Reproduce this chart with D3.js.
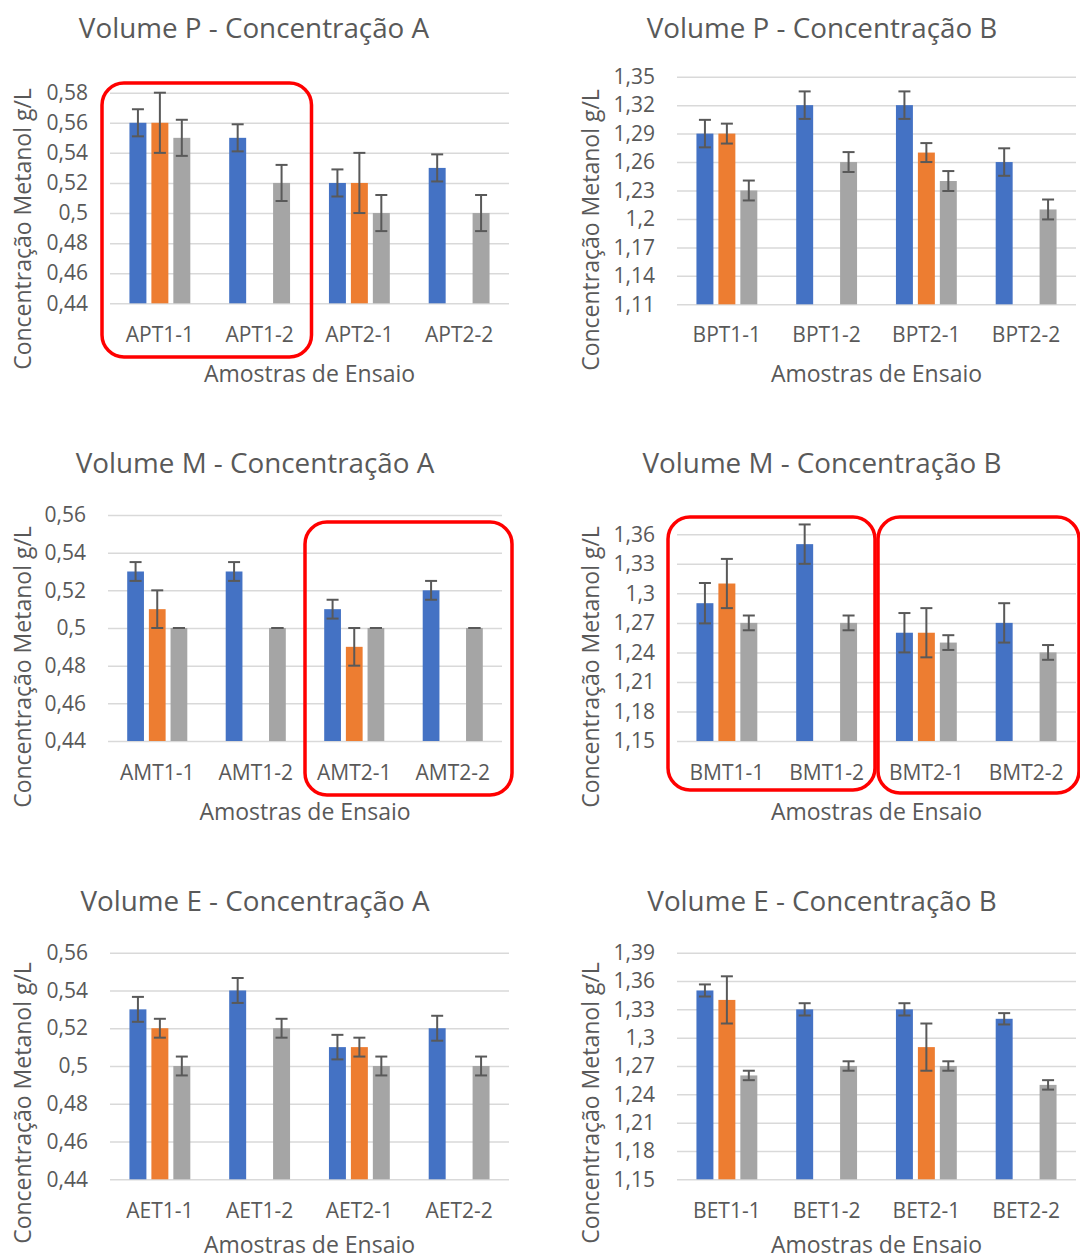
<!DOCTYPE html>
<html lang="pt">
<head>
<meta charset="utf-8">
<title>Concentração de Metanol</title>
<script src="https://cdn.jsdelivr.net/npm/d3@7"></script>
<style>
  html, body { margin: 0; padding: 0; background: #ffffff; }
  svg { display: block; }
  text { font-family: "Open Sans", "Noto Sans", sans-serif; fill: #595959; }
</style>
</head>
<body>
<svg id="chart" width="1080" height="1260"></svg>
<script>
// ---- Dados: Volume P - Concentração A ----
const catsPA   = ["APT1-1", "APT1-2", "APT2-1", "APT2-2"];
const serie1PA = [0.56, 0.55, 0.52, 0.53];
const serie2PA = [0.56, null, 0.52, null];
const serie3PA = [0.55, 0.52, 0.50, 0.50];
const erro1PA  = [0.009, 0.009, 0.009, 0.009];
const erro2PA  = [0.02, null, 0.02, null];
const erro3PA  = [0.012, 0.012, 0.012, 0.012];
const ticksPA  = [0.44, 0.46, 0.48, 0.50, 0.52, 0.54, 0.56, 0.58];

// ---- Dados: Volume P - Concentração B ----
const catsPB   = ["BPT1-1", "BPT1-2", "BPT2-1", "BPT2-2"];
const serie1PB = [1.29, 1.32, 1.32, 1.26];
const serie2PB = [1.29, null, 1.27, null];
const serie3PB = [1.23, 1.26, 1.24, 1.21];
const erro1PB  = [0.0145, 0.0145, 0.0145, 0.0145];
const erro2PB  = [0.0105, null, 0.01, null];
const erro3PB  = [0.0105, 0.0105, 0.0105, 0.0105];
const ticksPB  = [1.11, 1.14, 1.17, 1.20, 1.23, 1.26, 1.29, 1.32, 1.35];

// ---- Dados: Volume M - Concentração A ----
const catsMA   = ["AMT1-1", "AMT1-2", "AMT2-1", "AMT2-2"];
const serie1MA = [0.53, 0.53, 0.51, 0.52];
const serie2MA = [0.51, null, 0.49, null];
const serie3MA = [0.50, 0.50, 0.50, 0.50];
const erro1MA  = [0.005, 0.005, 0.005, 0.005];
const erro2MA  = [0.01, null, 0.01, null];
const erro3MA  = [0, 0, 0, 0];
const ticksMA  = [0.44, 0.46, 0.48, 0.50, 0.52, 0.54, 0.56];

// ---- Dados: Volume M - Concentração B ----
const catsMB   = ["BMT1-1", "BMT1-2", "BMT2-1", "BMT2-2"];
const serie1MB = [1.29, 1.35, 1.26, 1.27];
const serie2MB = [1.31, null, 1.26, null];
const serie3MB = [1.27, 1.27, 1.25, 1.24];
const erro1MB  = [0.0205, 0.02, 0.02, 0.02];
const erro2MB  = [0.025, null, 0.025, null];
const erro3MB  = [0.0075, 0.0075, 0.0075, 0.0075];
const ticksMB  = [1.15, 1.18, 1.21, 1.24, 1.27, 1.30, 1.33, 1.36];

// ---- Dados: Volume E - Concentração A ----
const catsEA   = ["AET1-1", "AET1-2", "AET2-1", "AET2-2"];
const serie1EA = [0.53, 0.54, 0.51, 0.52];
const serie2EA = [0.52, null, 0.51, null];
const serie3EA = [0.50, 0.52, 0.50, 0.50];
const erro1EA  = [0.0066, 0.0066, 0.0065, 0.0066];
const erro2EA  = [0.005, null, 0.005, null];
const erro3EA  = [0.005, 0.005, 0.005, 0.005];
const ticksEA  = [0.44, 0.46, 0.48, 0.50, 0.52, 0.54, 0.56];

// ---- Dados: Volume E - Concentração B ----
const catsEB   = ["BET1-1", "BET1-2", "BET2-1", "BET2-2"];
const serie1EB = [1.35, 1.33, 1.33, 1.32];
const serie2EB = [1.34, null, 1.29, null];
const serie3EB = [1.26, 1.27, 1.27, 1.25];
const erro1EB  = [0.0064, 0.0065, 0.0065, 0.006];
const erro2EB  = [0.025, null, 0.025, null];
const erro3EB  = [0.005, 0.005, 0.005, 0.005];
const ticksEB  = [1.15, 1.18, 1.21, 1.24, 1.27, 1.30, 1.33, 1.36, 1.39];

const titles = [
  "Volume P - Concentração A", "Volume P - Concentração B",
  "Volume M - Concentração A", "Volume M - Concentração B",
  "Volume E - Concentração A", "Volume E - Concentração B"
];
const yTitle = "Concentração Metanol g/L";
const xTitle = "Amostras de Ensaio";

// ---- Estilo ----
const colors = ["#4472C4", "#ED7D31", "#A5A5A5"];
const gridColor = "#D9D9D9";
const errColor = "#595959";
const ptBR = d3.formatLocale({ decimal: ",", thousands: ".", grouping: [3], currency: ["R$", ""] });
const fmt = ptBR.format(".2~f");

// Geometria de cada painel (área de plotagem e posição dos textos)
const panels = [
  { cats: catsPA, series: [serie1PA, serie2PA, serie3PA], errs: [erro1PA, erro2PA, erro3PA], ticks: ticksPA,
    x0: 110, x1: 509, yTop: 92.7, yBot: 303.3, titleX: 254, titleY: 28, ylabX: 23, ylabY: 229, xlabY: 335, axY: 374 },
  { cats: catsPB, series: [serie1PB, serie2PB, serie3PB], errs: [erro1PB, erro2PB, erro3PB], ticks: ticksPB,
    x0: 677, x1: 1076, yTop: 76.7, yBot: 304.3, titleX: 822, titleY: 28, ylabX: 591, ylabY: 230, xlabY: 335, axY: 374 },
  { cats: catsMA, series: [serie1MA, serie2MA, serie3MA], errs: [erro1MA, erro2MA, erro3MA], ticks: ticksMA,
    x0: 108, x1: 502, yTop: 515, yBot: 741, titleX: 255, titleY: 463, ylabX: 23, ylabY: 667, xlabY: 773, axY: 812 },
  { cats: catsMB, series: [serie1MB, serie2MB, serie3MB], errs: [erro1MB, erro2MB, erro3MB], ticks: ticksMB,
    x0: 677, x1: 1076, yTop: 534.3, yBot: 741, titleX: 822, titleY: 463, ylabX: 591, ylabY: 667, xlabY: 773, axY: 812 },
  { cats: catsEA, series: [serie1EA, serie2EA, serie3EA], errs: [erro1EA, erro2EA, erro3EA], ticks: ticksEA,
    x0: 110, x1: 509, yTop: 952.7, yBot: 1179.3, titleX: 255, titleY: 901, ylabX: 23, ylabY: 1103, xlabY: 1211, axY: 1245 },
  { cats: catsEB, series: [serie1EB, serie2EB, serie3EB], errs: [erro1EB, erro2EB, erro3EB], ticks: ticksEB,
    x0: 677, x1: 1076, yTop: 952.7, yBot: 1179.3, titleX: 822, titleY: 901, ylabX: 591, ylabY: 1103, xlabY: 1211, axY: 1245 }
];

// Destaques em vermelho: painel, primeira e última categoria, margens
const highlights = [
  { panel: 0, from: 0, to: 1, padL: 8, padR: 2, top: 83, bottom: 357 },
  { panel: 2, from: 2, to: 3, padL: 0, padR: 10, top: 522, bottom: 795 },
  { panel: 3, from: 0, to: 1, padL: 9, padR: -1.5, top: 517, bottom: 790 },
  { panel: 3, from: 2, to: 3, padL: -1.5, padR: 3, top: 517, bottom: 793 }
];

const svg = d3.select("#chart");
const scales = [];

panels.forEach((p, pi) => {
  const g = svg.append("g");
  const x = d3.scaleBand().domain(p.cats).range([p.x0, p.x1]).padding(0);
  const xs = d3.scaleBand().domain([0, 1, 2]).range([0, x.bandwidth()])
    .paddingInner(0.227).paddingOuter(0.886);
  const y = d3.scaleLinear().domain(d3.extent(p.ticks)).range([p.yBot, p.yTop]);
  scales.push(x);

  // Linhas de grade e rótulos do eixo Y
  const yAxis = g.append("g")
    .attr("transform", `translate(${p.x0},0)`)
    .call(d3.axisLeft(y).tickValues(p.ticks).tickFormat(fmt)
      .tickSize(-(p.x1 - p.x0)).tickPadding(22));
  yAxis.select(".domain").remove();
  yAxis.selectAll(".tick line").attr("stroke", gridColor).attr("stroke-width", 1.5);
  yAxis.selectAll(".tick text")
    .style("font-size", "21px").attr("fill", "#595959");

  // Barras
  p.series.forEach((vals, si) => {
    g.append("g").selectAll("rect")
      .data(vals.map((v, i) => ({ cat: p.cats[i], v })).filter(d => d.v != null))
      .join("rect")
      .attr("x", d => x(d.cat) + xs(si))
      .attr("width", xs.bandwidth())
      .attr("y", d => y(d.v))
      .attr("height", d => y.range()[0] - y(d.v))
      .attr("fill", colors[si]);
  });

  // Barras de erro
  const capW = 12;
  p.series.forEach((vals, si) => {
    const items = vals.map((v, i) => ({ cat: p.cats[i], v, e: p.errs[si][i] }))
      .filter(d => d.v != null && d.e != null);
    const eg = g.append("g").attr("stroke", errColor).attr("stroke-width", 2);
    items.forEach(d => {
      const cx = x(d.cat) + xs(si) + xs.bandwidth() / 2;
      const yHi = y(d.v + d.e), yLo = y(d.v - d.e);
      eg.append("line").attr("x1", cx).attr("x2", cx).attr("y1", yHi).attr("y2", yLo);
      eg.append("line").attr("x1", cx - capW / 2).attr("x2", cx + capW / 2).attr("y1", yHi).attr("y2", yHi);
      eg.append("line").attr("x1", cx - capW / 2).attr("x2", cx + capW / 2).attr("y1", yLo).attr("y2", yLo);
    });
  });

  // Rótulos das categorias
  g.append("g").selectAll("text")
    .data(p.cats).join("text")
    .attr("x", d => x(d) + x.bandwidth() / 2)
    .attr("y", p.xlabY)
    .attr("dy", "0.35em")
    .attr("text-anchor", "middle")
    .style("font-size", "21px")
    .text(d => d);

  // Título
  g.append("text")
    .attr("x", p.titleX).attr("y", p.titleY).attr("dy", "0.35em")
    .attr("text-anchor", "middle")
    .style("font-size", "27.8px")
    .text(titles[pi]);

  // Título do eixo Y
  g.append("text")
    .attr("transform", `translate(${p.ylabX},${p.ylabY}) rotate(-90)`)
    .attr("dy", "0.35em")
    .attr("text-anchor", "middle")
    .style("font-size", "23px")
    .text(yTitle);

  // Título do eixo X
  g.append("text")
    .attr("x", (p.x0 + p.x1) / 2).attr("y", p.axY).attr("dy", "0.35em")
    .attr("text-anchor", "middle")
    .style("font-size", "23px")
    .text(xTitle);
});

// Molduras de destaque
highlights.forEach(h => {
  const x = scales[h.panel];
  const cats = panels[h.panel].cats;
  const left = x(cats[h.from]) - h.padL;
  const right = x(cats[h.to]) + x.bandwidth() + h.padR;
  svg.append("rect")
    .attr("x", left).attr("y", h.top)
    .attr("width", right - left).attr("height", h.bottom - h.top)
    .attr("rx", 22).attr("ry", 22)
    .attr("fill", "none")
    .attr("stroke", "#FF0000")
    .attr("stroke-width", 3.5);
});
</script>
</body>
</html>
